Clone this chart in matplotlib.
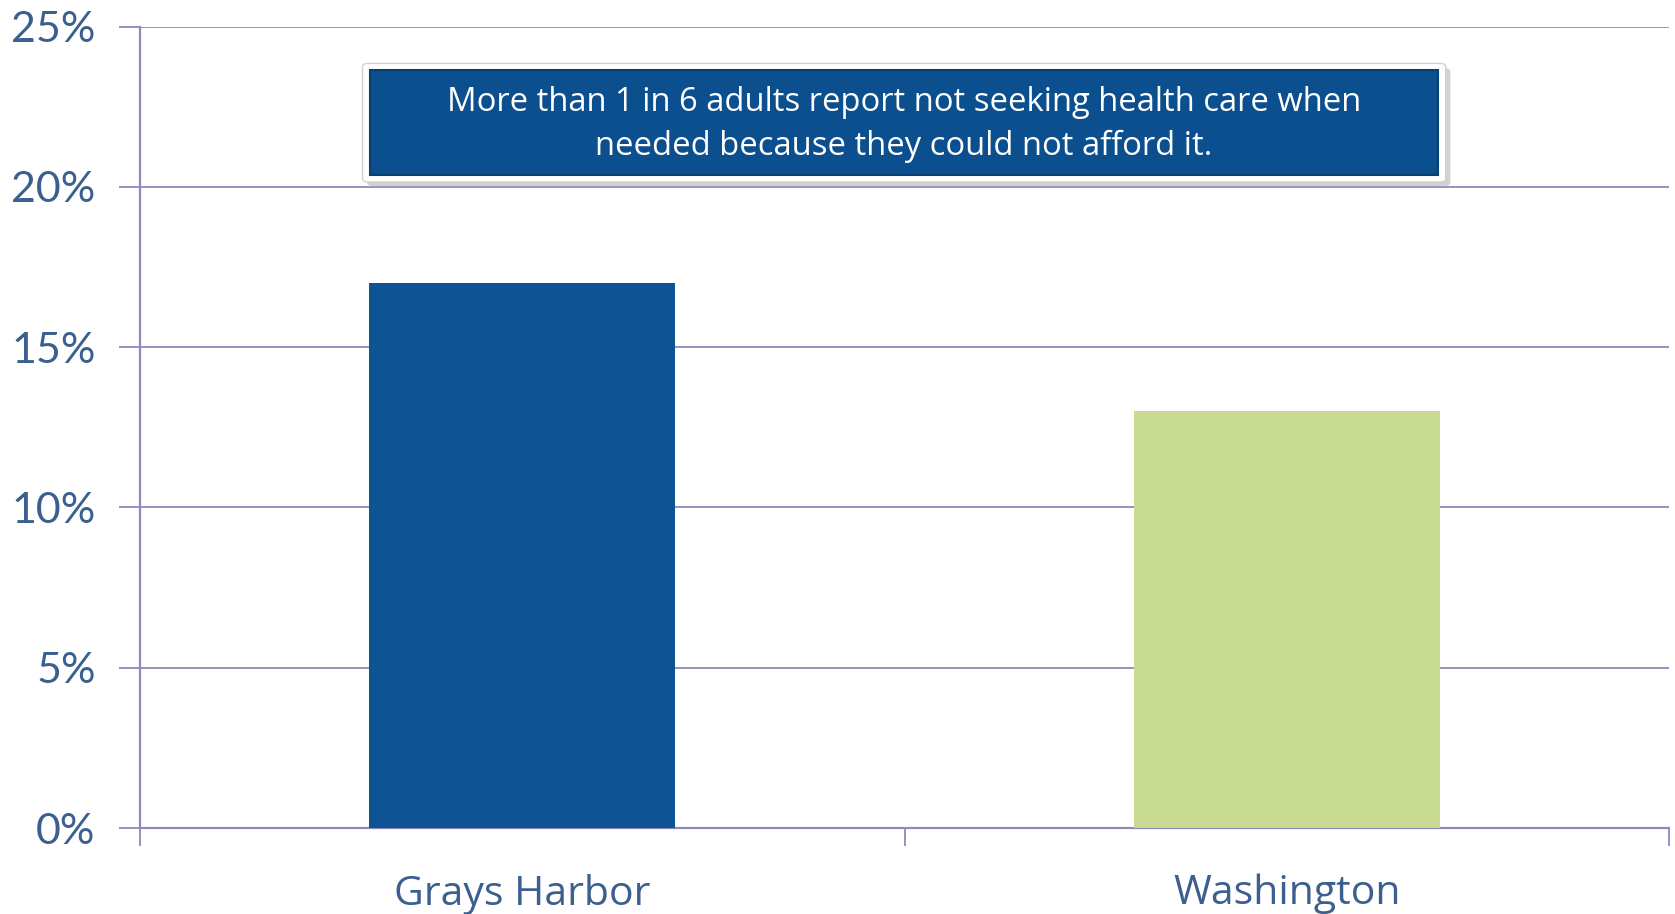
import numpy as np
import matplotlib.pyplot as plt
from matplotlib.patches import FancyBboxPatch, Rectangle

categories = ["Grays Harbor", "Washington"]
values = [17.0, 13.0]
bar_colors = ["#0e5394", "#c9da91"]
y_ticks = [0, 5, 10, 15, 20, 25]
note = "More than 1 in 6 adults report not seeking health care when\nneeded because they could not afford it."

grid_col = "#8f8abb"
label_col = "#3b5f8f"

fig = plt.figure(figsize=(16.75, 9.14), dpi=100)
ax = fig.add_axes([0.0836, 0.094, 0.9128, 0.877])

x = np.arange(len(categories))
ax.bar(x, values, width=0.4, color=bar_colors, zorder=3)

ax.set_xlim(-0.5, len(categories) - 0.5)
ax.set_ylim(0, 25)
ax.set_yticks(y_ticks)
ax.set_yticklabels([f"{t}%" for t in y_ticks], fontsize=31, color=label_col, family="Lato")
ax.yaxis.grid(True, color=grid_col, linewidth=1.3, zorder=0)
ax.tick_params(axis="y", length=15, color=grid_col, width=1.3, pad=17)

# category labels centred, ticks at the category borders
ax.set_xticks(x)
ax.set_xticklabels(categories, fontsize=29.5, color=label_col, family="Open Sans")
ax.tick_params(axis="x", length=0, pad=33)
ax.set_xticks(np.arange(len(categories) + 1) - 0.5, minor=True)
ax.tick_params(axis="x", which="minor", length=13, color=grid_col, width=1.3)

for s in ["top", "right"]:
    ax.spines[s].set_visible(False)
ax.spines["left"].set_color(grid_col)
ax.spines["left"].set_linewidth(1.6)
ax.spines["bottom"].set_color(grid_col)
ax.spines["bottom"].set_linewidth(1.6)

# callout box
shadow = FancyBboxPatch((0.1485, 0.801), 0.7085, 0.147, boxstyle="round,pad=0,rounding_size=0.004",
                        transform=ax.transAxes, facecolor="#d2d2d2", edgecolor="none", zorder=4)
ax.add_patch(shadow)
outer = FancyBboxPatch((0.1455, 0.806), 0.7085, 0.148, boxstyle="round,pad=0,rounding_size=0.004",
                       transform=ax.transAxes, facecolor="white", edgecolor="#d0d0d0", lw=1, zorder=5)
ax.add_patch(outer)
inner = Rectangle((0.1505, 0.815), 0.6985, 0.131, transform=ax.transAxes,
                  facecolor="#0c4f8e", edgecolor="#0a3f72", lw=1.5, zorder=6)
ax.add_patch(inner)
ax.text(0.4995, 0.8775, note, transform=ax.transAxes, ha="center", va="center",
        fontsize=23.6, color="white", family="Open Sans", linespacing=1.42, zorder=7)

fig.savefig("out.png", dpi=100)
